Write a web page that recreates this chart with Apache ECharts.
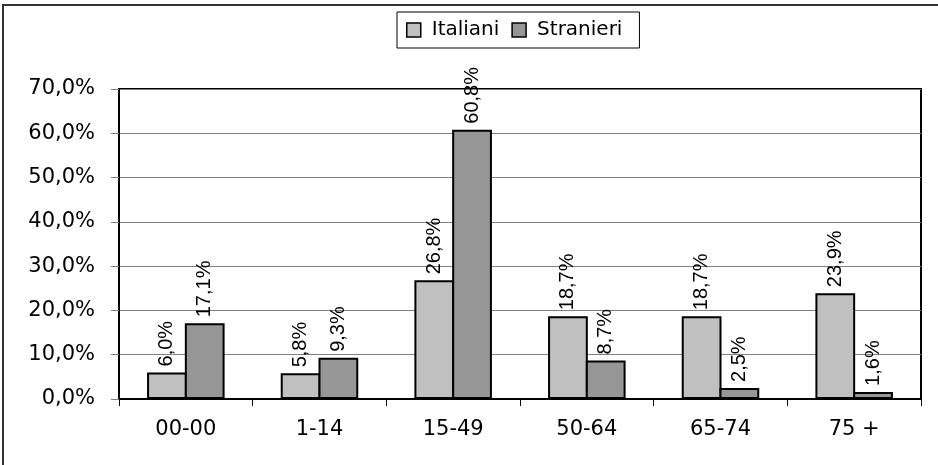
<!DOCTYPE html>
<html>
<head>
<meta charset="utf-8">
<script src="https://cdn.jsdelivr.net/npm/echarts@6/dist/echarts.min.js"></script>
<style>
  html, body { margin: 0; padding: 0; background: #fff; }
  #chart { width: 938px; height: 465px; }
</style>
</head>
<body>
<div id="chart"></div>
<script>
// Age bands and share of each population group (percent)
const categories = ['00-00', '1-14', '15-49', '50-64', '65-74', '75 +'];
const italiani = [6.0, 5.8, 26.8, 18.7, 18.7, 23.9];
const stranieri = [17.1, 9.3, 60.8, 8.7, 2.5, 1.6];
const seriesNames = ['Italiani', 'Stranieri'];
const yTicks = [0, 10, 20, 30, 40, 50, 60, 70];

const pct = v => Number(v).toFixed(1).replace('.', ',') + '%';

const chart = echarts.init(document.getElementById('chart'), null, { renderer: 'canvas' });

const barLabel = {
  show: true,
  position: 'top',
  rotate: 90,
  align: 'left',
  verticalAlign: 'middle',
  distance: 6,
  color: '#000',
  fontFamily: 'Liberation Sans',
  fontSize: 20,
  formatter: p => pct(p.value)
};

chart.setOption({
  animation: false,
  backgroundColor: '#fff',
  graphic: [{
    type: 'rect',
    shape: { x: 3, y: 5, width: 1000, height: 1000 },
    style: { fill: 'none', stroke: '#333', lineWidth: 2 },
    silent: true
  }],
  legend: {
    left: 397,
    top: 12,
    padding: [8, 17, 8, 9],
    borderColor: '#000',
    borderWidth: 1,
    itemWidth: 14,
    itemHeight: 14,
    itemGap: 12,
    icon: 'rect',
    itemStyle: { borderColor: '#000', borderWidth: 1.5 },
    textStyle: {
      fontFamily: 'DejaVu Sans',
      fontSize: 20,
      lineHeight: 20,
      color: '#000',
      padding: [0, 0, 0, 6]
    },
    data: seriesNames
  },
  grid: {
    left: 119,
    right: 17,
    top: 89,
    bottom: 66,
    show: true,
    borderColor: '#000',
    borderWidth: 2,
    backgroundColor: '#fff'
  },
  xAxis: {
    type: 'category',
    data: categories,
    axisLine: { lineStyle: { color: '#000', width: 2 } },
    axisTick: { show: true, length: 7, lineStyle: { color: '#000', width: 1 } },
    axisLabel: {
      margin: 20,
      color: '#000',
      fontFamily: 'DejaVu Sans',
      fontSize: 21
    }
  },
  yAxis: {
    type: 'value',
    min: yTicks[0],
    max: yTicks[yTicks.length - 1],
    interval: 10,
    axisLine: { show: true, lineStyle: { color: '#000', width: 2 } },
    axisTick: { show: true, length: 8, lineStyle: { color: '#808080', width: 1 } },
    splitLine: { show: true, lineStyle: { color: '#808080', width: 1 } },
    axisLabel: {
      margin: 24,
      color: '#000',
      fontFamily: 'DejaVu Sans',
      fontSize: 21,
      formatter: v => pct(v)
    }
  },
  series: [
    {
      name: seriesNames[0],
      type: 'bar',
      data: italiani,
      barCategoryGap: '42%',
      barGap: '-5%',
      itemStyle: { color: '#C0C0C0', borderColor: '#000', borderWidth: 2 },
      label: barLabel
    },
    {
      name: seriesNames[1],
      type: 'bar',
      data: stranieri,
      barCategoryGap: '42%',
      barGap: '-5%',
      itemStyle: { color: '#969696', borderColor: '#000', borderWidth: 2 },
      label: barLabel
    }
  ]
});
</script>
</body>
</html>
